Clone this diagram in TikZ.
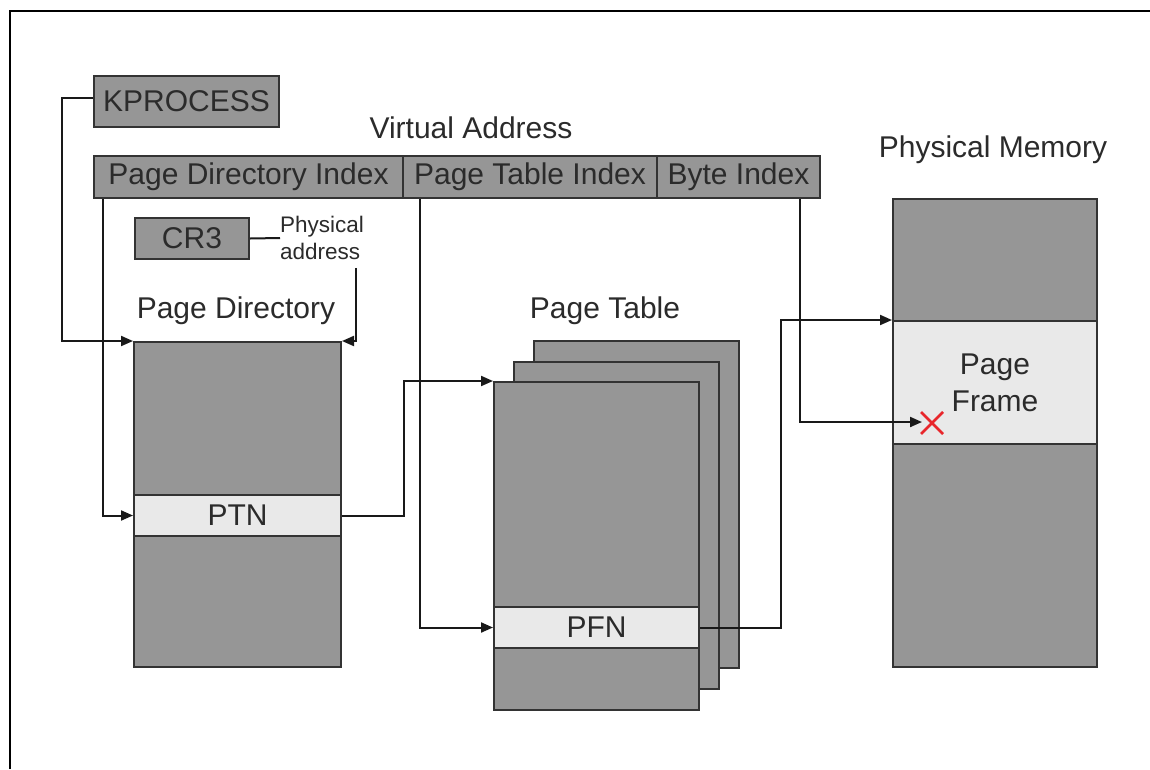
\documentclass[tikz,border=0pt]{standalone}
\usepackage{fontspec}
\setmainfont{Liberation Sans}
\usetikzlibrary{arrows.meta,calc}
\definecolor{boxgray}{HTML}{969696}
\definecolor{rowgray}{HTML}{E9E9E9}
\definecolor{edge}{HTML}{333333}
\definecolor{ink}{HTML}{2B2B2B}
\definecolor{hitred}{HTML}{E8262B}
\begin{document}
\begin{tikzpicture}[x=1pt,y=-1pt,
  box/.style={draw=edge, line width=2pt, fill=boxgray, inner sep=0pt,
    anchor=north west, text=ink, font=\fontsize{30}{36}\selectfont},
  row/.style={box, fill=rowgray},
  lbl/.style={text=ink, font=\fontsize{30}{36}\selectfont, inner sep=0pt},
  small/.style={text=ink, font=\fontsize{22.5}{27}\selectfont, inner sep=0pt, align=left},
  wire/.style={draw=black!90, line width=2pt},
  arr/.style={wire, -{Triangle[length=12pt,width=10pt]}},
]
\useasboundingbox (0,0) rectangle (1150,769);
\fill[white] (0,0) rectangle (1150,769);
\draw[line width=2pt] (10,769) -- (10,11) -- (1150,11);

% process object
\node[box, minimum width=185pt, minimum height=51pt] (kp) at (93,75) {KPROCESS};

% virtual address fields
\node[lbl] (va) at (471,128) {Virtual Address};
\node[box, minimum width=309pt, minimum height=42pt] (pdi) at (93,155) {Page Directory Index};
\node[box, minimum width=254pt, minimum height=42pt] (pti) at (402,155) {Page Table Index};
\node[box, minimum width=163pt, minimum height=42pt] (bi) at (656,155) {Byte Index};

% CR3 register
\node[box, minimum width=114pt, minimum height=41pt] (cr3) at (134,217) {CR3};
\node[small, anchor=west] (phys) at (280,238) {Physical\\address};

% page directory
\node[lbl] (pdl) at (236,311) {Page Directory};
\node[box, minimum width=207pt, minimum height=325pt] (pd) at (133,341) {};
\node[row, minimum width=207pt, minimum height=41pt] (ptn) at (133,494) {PTN};

% page tables (stacked)
\node[lbl] (ptl) at (605,311) {Page Table};
\node[box, minimum width=205pt, minimum height=327pt] (pt3) at (533,340) {};
\node[box, minimum width=205pt, minimum height=327pt] (pt2) at (513,361) {};
\node[box, minimum width=205pt, minimum height=328pt] (pt1) at (493,381) {};
\node[row, minimum width=205pt, minimum height=41pt] (pfn) at (493,606) {PFN};

% physical memory
\node[lbl] (pml) at (993,150) {Physical Memory};
\node[box, minimum width=204pt, minimum height=468pt] (pm) at (892,198) {};
\node[row, minimum width=204pt, minimum height=123pt, align=center,
  font=\fontsize{30}{37}\selectfont] (pf) at (892,320) {Page\\Frame};

% target byte
\coordinate (hit) at (922,422);
\draw[hitred, line width=2.6pt] (921,412) -- (943,434) (921,434) -- (943,412);

% connectors
\draw[arr] ([yshift=4pt]kp.west) -- ++(-31,0) |- (pd.north west);
\draw[wire] (cr3.east) -- (phys.west);
\draw[arr] ([xshift=-8pt,yshift=-8pt]phys.south east) |- (pd.north east);
\draw[arr] ([xshift=10pt]pdi.south west) |- (ptn.west);
\draw[arr] (ptn.east) -- ++(62,0) |- (pt1.north west);
\draw[arr] ([xshift=18pt]pti.south west) |- (pfn.west);
\draw[arr] (pfn.east) -- ++(81,0) |- (pf.north west);
\draw[arr] ([xshift=-21pt]bi.south east) |- (hit);
\end{tikzpicture}
\end{document}
